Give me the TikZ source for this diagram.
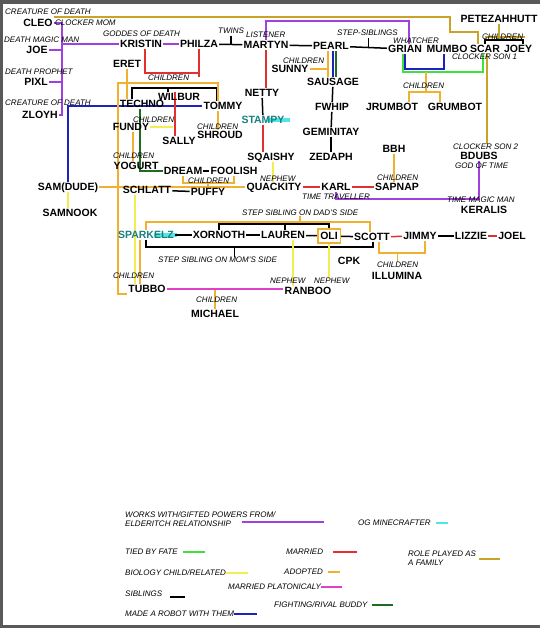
\documentclass[tikz,border=0pt]{standalone}
\usepackage{fontspec}
\setmainfont{Liberation Sans}
\usetikzlibrary{calc}
\pgfdeclarelayer{back}
\pgfsetlayers{back,main}
\definecolor{elderc}{HTML}{A040E0}
\definecolor{fatec}{HTML}{40E040}
\definecolor{bioc}{HTML}{F2EE50}
\definecolor{robotc}{HTML}{2020C0}
\definecolor{marriedc}{HTML}{E03030}
\definecolor{adoptc}{HTML}{F0B030}
\definecolor{platc}{HTML}{E040C8}
\definecolor{rivalc}{HTML}{1F6B1F}
\definecolor{familyc}{HTML}{C9A227}
\definecolor{ogc}{HTML}{50E6E6}
\definecolor{ogtext}{HTML}{1A8080}
\tikzset{
	nm/.style={font=\bfseries\fontsize{10.5}{10.5}\selectfont, inner sep=1pt, text height=7.5pt, text depth=0pt},
	lbl/.style={font=\itshape\fontsize{8}{8}\selectfont, inner sep=0pt, anchor=west},
	elder/.style={draw=elderc, line width=1.5pt},
	fate/.style={draw=fatec, line width=1.5pt},
	bio/.style={draw=bioc, line width=1.5pt},
	sib/.style={draw=black, line width=1.5pt},
	robot/.style={draw=robotc, line width=1.5pt},
	married/.style={draw=marriedc, line width=1.5pt},
	adopted/.style={draw=adoptc, line width=1.5pt},
	platonic/.style={draw=platc, line width=1.5pt},
	rival/.style={draw=rivalc, line width=1.5pt},
	family/.style={draw=familyc, line width=1.5pt},
	ogmc/.style={draw=ogc, line width=1.5pt}
}
\begin{document}
\begin{tikzpicture}[x=1pt,y=-1pt]
	\useasboundingbox (0,0) rectangle (540,628);
	\node[nm] (cleo) at (38,23) {CLEO};
	\node[nm] (joe) at (37,50) {JOE};
	\node[nm] (pixl) at (36,82) {PIXL};
	\node[nm] (zloyh) at (40,115) {ZLOYH};
	\node[nm] (kristin) at (141,44) {KRISTIN};
	\node[nm] (philza) at (199,44) {PHILZA};
	\node[nm] (martyn) at (266,45) {MARTYN};
	\node[nm] (pearl) at (331,46) {PEARL};
	\node[nm] (grian) at (405,49) {GRIAN};
	\node[nm] (mumbo) at (447,49) {MUMBO};
	\node[nm] (scar) at (485,49) {SCAR};
	\node[nm] (joey) at (518,49) {JOEY};
	\node[nm] (pete) at (499,19) {PETEZAHHUTT};
	\node[nm] (eret) at (127,64) {ERET};
	\node[nm] (sunny) at (290,69) {SUNNY};
	\node[nm] (sausage) at (333,82) {SAUSAGE};
	\node[nm] (netty) at (262,93) {NETTY};
	\node[nm] (wilbur) at (179,97) {WILBUR};
	\node[nm] (techno) at (142,104) {TECHNO};
	\node[nm] (tommy) at (223,106) {TOMMY};
	\node[nm] (fwhip) at (332,107) {FWHIP};
	\node[nm] (jrumbot) at (392,107) {JRUMBOT};
	\node[nm] (grumbot) at (455,107) {GRUMBOT};
	\node[nm, text=ogtext] (stampy) at (263,120) {STAMPY};
	\node[nm] (fundy) at (131,127) {FUNDY};
	\node[nm] (geminitay) at (331,132) {GEMINITAY};
	\node[nm] (shroud) at (220,135) {SHROUD};
	\node[nm] (sally) at (179,141) {SALLY};
	\node[nm] (bbh) at (394,149) {BBH};
	\node[nm] (bdubs) at (479,156) {BDUBS};
	\node[nm] (sqaishy) at (271,157) {SQAISHY};
	\node[nm] (zedaph) at (331,157) {ZEDAPH};
	\node[nm] (yogurt) at (136,166) {YOGURT};
	\node[nm] (dream) at (183,171) {DREAM};
	\node[nm] (foolish) at (234,171) {FOOLISH};
	\node[nm] (samdude) at (68,187) {SAM(DUDE)};
	\node[nm] (quackity) at (274,187) {QUACKITY};
	\node[nm] (karl) at (336,187) {KARL};
	\node[nm] (sapnap) at (397,187) {SAPNAP};
	\node[nm] (schlatt) at (147,190) {SCHLATT};
	\node[nm] (puffy) at (208,192) {PUFFY};
	\node[nm] (keralis) at (484,210) {KERALIS};
	\node[nm] (samnook) at (70,213) {SAMNOOK};
	\node[nm, text=ogtext] (sparkelz) at (146,235) {SPARKELZ};
	\node[nm] (xornoth) at (219,235) {XORNOTH};
	\node[nm] (lauren) at (283,235) {LAUREN};
	\node[nm, draw=adoptc, line width=1.5pt, inner xsep=2.5pt, minimum height=14pt] (oli) at (329,236) {OLI};
	\node[nm] (scott) at (372,237) {SCOTT};
	\node[nm] (jimmy) at (420,236) {JIMMY};
	\node[nm] (lizzie) at (471,236) {LIZZIE};
	\node[nm] (joel) at (512,236) {JOEL};
	\node[nm] (cpk) at (349,261) {CPK};
	\node[nm] (illumina) at (397,276) {ILLUMINA};
	\node[nm] (tubbo) at (147,289) {TUBBO};
	\node[nm] (ranboo) at (308,291) {RANBOO};
	\node[nm] (michael) at (215,314) {MICHAEL};

	\node[lbl] (lcleo) at (5,12) {CREATURE OF DEATH};
	\node[lbl] (lclocker) at (55,23) {CLOCKER MOM};
	\node[lbl] (ljoe) at (4,40) {DEATH MAGIC MAN};
	\node[lbl] (lkristin) at (103,34) {GODDES OF DEATH};
	\node[lbl] (ltwins) at (218,31) {TWINS};
	\node[lbl] (lmartyn) at (246,35) {LISTENER};
	\node[lbl] (lpixl) at (5,72) {DEATH PROPHET};
	\node[lbl] (lzloyh) at (5,103) {CREATURE OF DEATH};
	\node[lbl] (lkidsphil) at (148,78) {CHILDREN};
	\node[lbl] (lstep) at (337,33) {STEP-SIBLINGS};
	\node[lbl] (lgrian) at (393,41) {WHATCHER};
	\node[lbl] (lson1) at (452,57) {CLOCKER SON 1};
	\node[lbl] (lkidspete) at (482,37) {CHILDREN};
	\node[lbl] (lkidspearl) at (283,61) {CHILDREN};
	\node[lbl] (lkidsgm) at (403,86) {CHILDREN};
	\node[lbl] (lkidsfundy) at (133,120) {CHILDREN};
	\node[lbl] (lkidstommy) at (197,127) {CHILDREN};
	\node[lbl] (lkidsyogurt) at (113,156) {CHILDREN};
	\node[lbl] (lkidsdream) at (188,181) {CHILDREN};
	\node[lbl] (lnephewq) at (260,179) {NEPHEW};
	\node[lbl] (lkidsbbh) at (377,178) {CHILDREN};
	\node[lbl] (lson2) at (453,147) {CLOCKER SON 2};
	\node[lbl] (lbdubs) at (455,166) {GOD OF TIME};
	\node[lbl] (lkarl) at (302,197) {TIME TRAVELLER};
	\node[lbl] (lkeralis) at (447,200) {TIME MAGIC MAN};
	\node[lbl] (ldad) at (242,213) {STEP SIBLING ON DAD'S SIDE};
	\node[lbl] (lmom) at (158,260) {STEP SIBLING ON MOM'S SIDE};
	\node[lbl] (lkidsschlatt) at (113,276) {CHILDREN};
	\node[lbl] (lillu) at (377,265) {CHILDREN};
	\node[lbl] (lnephewl) at (270,281) {NEPHEW};
	\node[lbl] (lnephewo) at (314,281) {NEPHEW};
	\node[lbl] (lmich) at (196,300) {CHILDREN};

	\node[lbl] (lgelderA) at (125,515) {WORKS WITH/GIFTED POWERS FROM/};
	\node[lbl] (lgelderB) at (125,524) {ELDERITCH RELATIONSHIP};
	\node[lbl] (lgog) at (358,523) {OG MINECRAFTER};
	\node[lbl] (lgfate) at (125,552) {TIED BY FATE};
	\node[lbl] (lgmarried) at (286,552) {MARRIED};
	\node[lbl] (lgroleA) at (408,554) {ROLE PLAYED AS};
	\node[lbl] (lgroleB) at (408,563) {A FAMILY};
	\node[lbl] (lgbio) at (125,573) {BIOLOGY CHILD/RELATED};
	\node[lbl] (lgadopt) at (284,572) {ADOPTED};
	\node[lbl] (lgplat) at (228,587) {MARRIED PLATONICALY};
	\node[lbl] (lgsib) at (125,594) {SIBLINGS};
	\node[lbl] (lgrival) at (274,605) {FIGHTING/RIVAL BUDDY};
	\node[lbl] (lgrobot) at (125,614) {MADE A ROBOT WITH THEM};

	\begin{pgfonlayer}{back}
	\fill[black!65] (0,0) rectangle (540,628);
	\fill[white] (3,4) rectangle (540,625);

	\draw[ogmc, line width=4pt] ([xshift=4pt]stampy.center) -- ([xshift=4pt]stampy.east);
	\draw[ogmc, line width=4pt] ([xshift=8pt]sparkelz.center) -- ([xshift=2pt]sparkelz.east);

	\coordinate (elderbar) at (62,23);
	\draw[elder] (cleo.east) -- (elderbar) -- (elderbar |- zloyh.east) -- (zloyh.east);
	\draw[elder] (joe.east) -- (elderbar |- joe.east);
	\draw[elder] (pixl.east) -- (elderbar |- pixl.east);
	\draw[elder] (elderbar |- kristin.west) -- (kristin.west);
	\draw[elder] (kristin) -- (philza);
	\draw[elder] (martyn.north) -- ++(0,-19) -| ([xshift=4pt]grian.north);
	\draw[elder] (karl.south) -- ++(0,7) -| (bdubs.south);

	\draw[family] ([yshift=6pt]cleo.east) -- ++(396,0) -- ++(0,15) -| ([xshift=-7pt]scar.north);
	\draw[family] ([xshift=2pt]scar.south) -- ([xshift=2pt]scar.south |- lson2.north);
	\draw[family] (pete.south) -- ++(0,14);
	\draw[family] (scar.north) ++(0,-7) -- ++(40,0);

	\draw[sib] (philza) -- (martyn);
	\draw[sib] ($(philza.east)!.5!(martyn.west)$) -- ++(0,-8);
	\draw[sib] (martyn) -- (pearl);
	\draw[sib] (pearl) -- (grian);
	\draw[sib] ($(pearl.east)!.5!(grian.west)$) -- ++(0,-9);
	\draw[sib] ([xshift=-10pt]techno.north) -- ++(0,-11) -| ([xshift=-6pt]tommy.north);
	\draw[sib] ([xshift=-11pt]wilbur.north) -- ++(0,-4);
	\draw[sib] (sausage) -- (fwhip);
	\draw[sib] (fwhip) -- (geminitay);
	\draw[sib] (geminitay) -- (zedaph);
	\draw[sib] (netty) -- (stampy);
	\draw[sib] (dream) -- (foolish);
	\draw[sib] (schlatt) -- (puffy);
	\draw[sib] (sparkelz) -- (xornoth);
	\draw[sib] (xornoth) -- (lauren);
	\draw[sib] (lauren) -- (oli);
	\draw[sib] (oli) -- (scott);
	\draw[sib] (jimmy) -- (lizzie);
	\draw[sib] (xornoth.north) -- ++(0,-6) -| (oli.north);
	\draw[sib] ([xshift=2pt]lauren.north) -- ++(0,-6);
	\draw[sib] (sparkelz.south) -- ++(0,7) -| ([xshift=1pt]scott.south);
	\draw[sib] ([xshift=17pt]lmom.north) -- ++(0,-10);
	\draw[sib] (scar.north) -- ++(0,-4) -| ([xshift=5pt]joey.north);

	\draw[fate] ([xshift=-2pt]grian.south) -- ++(0,18) -| ([xshift=-2pt]scar.south);

	\draw[robot] (grian.south) -- ++(0,15) -| ([xshift=-3pt]mumbo.south);
	\draw[robot] (samdude.north) |- (tommy.west);
	\draw[robot] ([xshift=2pt]pearl.south) -- ([xshift=2pt]pearl.south |- sausage.north);

	\draw[married] ([xshift=4pt]kristin.south) -- ++(0,24) -| (philza.south);
	\draw[married] (philza.south) -- ++(0,28);
	\draw[married] (martyn.south) -- (martyn.south |- netty.north);
	\draw[married] (stampy.south) -- (stampy.south |- sqaishy.north);
	\draw[married] ([xshift=-4pt]wilbur.north) -- ([xshift=-4pt]wilbur.north |- sally.north);
	\draw[married] (quackity) -- (karl);
	\draw[married] (karl) -- (sapnap);
	\draw[married] (scott) -- (jimmy);
	\draw[married] (lizzie) -- (joel);

	\draw[bio] (fundy.east) -- ([xshift=-6pt]fundy.east -| wilbur.north);
	\draw[bio] ([xshift=2pt]sqaishy.south) -- ([xshift=2pt]sqaishy.south |- quackity.north);
	\draw[bio, line width=2.5pt] (samdude.south) -- (samdude.south |- samnook.north);
	\draw[bio] ([xshift=-12pt]schlatt.south) -- ([xshift=-12pt]schlatt.south |- tubbo.north);
	\draw[bio] ([xshift=10pt]lauren.south) -- ([xshift=10pt]lauren.south |- ranboo.north);
	\draw[bio] (oli.south) -- (oli.south |- lnephewo.north);

	\draw[adopted] ([xshift=-5pt]tommy.north) -- ++(0,-18) -- ++(-100,0) |- (tubbo.south west);
	\draw[adopted] ([xshift=-5pt]tommy.south) -- ([xshift=-5pt]tommy.south |- shroud.north);
	\draw[adopted] (eret.south) -- (eret.south |- techno.north);
	\draw[adopted] ([xshift=2pt]fundy.south) -- ([xshift=2pt]fundy.south |- yogurt.north);
	\draw[adopted] (dream.south) -- ++(0,7) -| (foolish.south);
	\draw[adopted] (puffy.north) -- ++(0,-5);
	\draw[adopted] (samdude.east) -- (quackity.west);
	\draw[adopted] (bbh.south) -- (bbh.south |- sapnap.north);
	\draw[adopted] (sparkelz.north) -- ++(0,-8) -| ([xshift=-2pt]scott.north);
	\draw[adopted] (ldad.south) -- ++(0,6);
	\draw[adopted] ([xshift=7pt]scott.south) -- ++(0,11) -| ([xshift=5pt]jimmy.south);
	\draw[adopted] (lillu.north) -- ++(0,-8);
	\draw[adopted] ([xshift=-6pt]sparkelz.south) -- ([xshift=-6pt]sparkelz.south |- tubbo.north);
	\draw[adopted] (michael.north) -- (michael.north |- tubbo.east);
	\coordinate (gmkids) at ($(grian.south)!.5!(mumbo.south)+(0,18)$);
	\draw[adopted, line width=2.5pt] (gmkids) -- ++(0,21);
	\draw[adopted, line width=2.5pt] ([xshift=17pt]jrumbot.north) -- ++(0,-10) -| ([xshift=-15pt]grumbot.north);
	\draw[adopted, line width=2.5pt] ([xshift=-3pt]pearl.south) -- ([xshift=-3pt]pearl.south |- sausage.north);
	\draw[adopted, line width=2.5pt] (sunny.east) -- ([xshift=-3pt]pearl.south |- sunny.east);

	\draw[platonic] (tubbo.east) -- (tubbo.east -| ranboo.west);

	\draw[rival] ([xshift=-2pt]techno.south) |- (dream.west);
	\draw[rival] ([xshift=5pt]pearl.south) -- ([xshift=5pt]pearl.south |- sausage.north);

	\draw[elder] ([xshift=11pt]lgelderB.east) ++(0,-2) -- ++(82,0);
	\draw[ogmc] ([xshift=5pt]lgog.east) -- ++(12,0);
	\draw[fate] ([xshift=5pt]lgfate.east) -- ++(22,0);
	\draw[married] ([xshift=10pt]lgmarried.east) -- ++(24,0);
	\draw[family] ([xshift=3pt]lgroleA.east) ++(0,5) -- ++(21,0);
	\draw[bio] (lgbio.east) -- ++(22,0);
	\draw[adopted] ([xshift=5pt]lgadopt.east) -- ++(12,0);
	\draw[platonic] (lgplat.east) -- ++(21,0);
	\draw[sib] ([xshift=8pt]lgsib.east) ++(0,3) -- ++(15,0);
	\draw[rival] ([xshift=4pt]lgrival.east) -- ++(21,0);
	\draw[robot] (lgrobot.east) -- ++(23,0);
	\end{pgfonlayer}
\end{tikzpicture}
\end{document}
